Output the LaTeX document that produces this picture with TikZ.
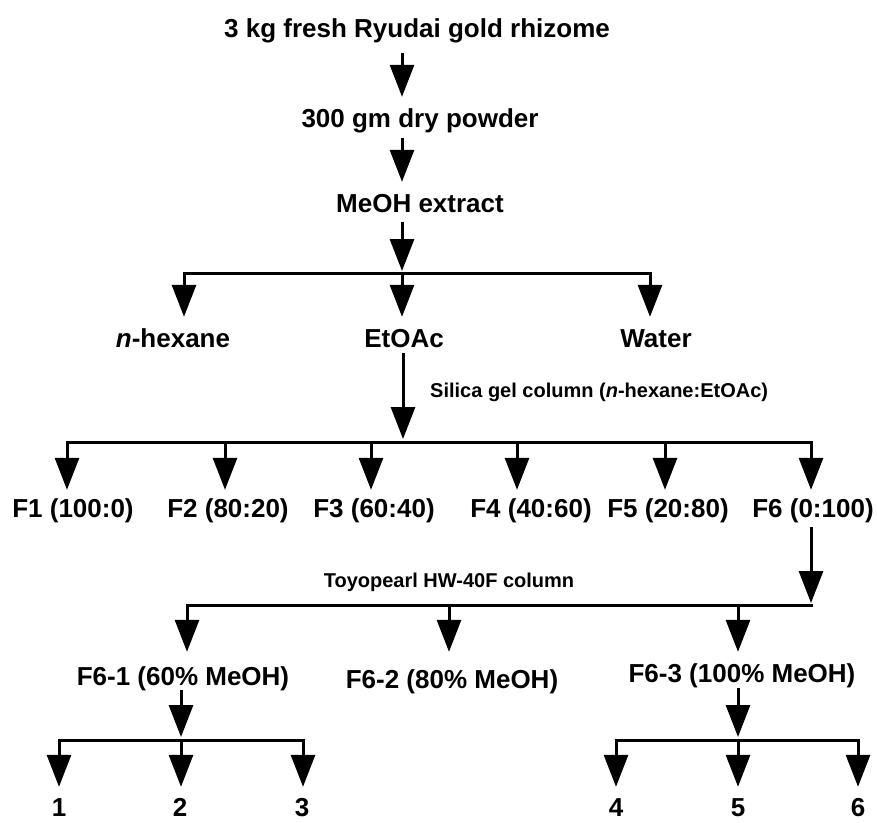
\documentclass[tikz,border=0pt]{standalone}
\usepackage{fontspec}
\setmainfont{Liberation Sans}
\usetikzlibrary{arrows.meta}
\begin{document}
\begin{tikzpicture}[x=1pt,y=-1pt,
  lbl/.style={font=\fontsize{26}{30}\selectfont\bfseries, inner sep=0pt, text height=19pt, text depth=5pt, anchor=base},
  numlbl/.style={lbl, text depth=0pt},
  sml/.style={font=\fontsize{20}{24}\selectfont\bfseries, inner sep=0pt, anchor=base},
  arr/.style={line width=3pt, -{Triangle[length=32pt,width=24pt]}},
  barline/.style={line width=3pt, line cap=rect}]
\useasboundingbox (0,0) rectangle (877,822);
% level 0
\node[lbl] (title) at (417,37) {3 kg fresh Ryudai gold rhizome};
\node[lbl] (powder) at (420,127) {300 gm dry powder};
\node[lbl] (meoh) at (420,212) {MeOH extract};
\coordinate (j1) at (402,273);
\coordinate (b1L) at (184,273);
\coordinate (b1R) at (650,273);
\draw[arr, shorten <=11pt, shorten >=11pt] (title.south -| j1) -- (powder.north -| j1);
\draw[arr, shorten <=6pt, shorten >=11pt] (powder.south -| j1) -- (meoh.north -| j1);
\draw[arr, shorten <=5pt, shorten >=2pt] (meoh.south -| j1) -- (j1);
\draw[barline] (b1L) -- (b1R);
% level 1
\node[lbl] (hex) at (173,347) {\textit{n}-hexane};
\node[lbl] (etoac) at (404,347) {EtOAc};
\node[lbl] (water) at (656,347) {Water};
\draw[arr, shorten >=11pt] (b1L) -- (hex.north -| b1L);
\draw[arr, shorten >=11pt] (j1) -- (etoac.north -| j1);
\draw[arr, shorten >=11pt] (b1R) -- (water.north -| b1R);
% silica column
\coordinate (j2) at (403,442);
\draw[arr, shorten <=1pt, shorten >=3pt] (etoac.south -| j2) -- (j2);
\node[sml, anchor=base west] (silica) at (430,397) {Silica gel column (\textit{n}-hexane:EtOAc)};
\coordinate (b2a) at (67,442);
\coordinate (b2b) at (225,442);
\coordinate (b2c) at (371,442);
\coordinate (b2d) at (517,442);
\coordinate (b2e) at (665,442);
\coordinate (b2f) at (811,442);
\draw[barline] (b2a) -- (b2f);
\node[lbl] (f1) at (73,517) {F1 (100:0)};
\node[lbl] (f2) at (228,517) {F2 (80:20)};
\node[lbl] (f3) at (374,517) {F3 (60:40)};
\node[lbl] (f4) at (531,517) {F4 (40:60)};
\node[lbl] (f5) at (668,517) {F5 (20:80)};
\node[lbl] (f6) at (813,517) {F6 (0:100)};
\draw[arr, shorten >=8pt] (b2a) -- (f1.north -| b2a);
\draw[arr, shorten >=8pt] (b2b) -- (f2.north -| b2b);
\draw[arr, shorten >=8pt] (b2c) -- (f3.north -| b2c);
\draw[arr, shorten >=8pt] (b2d) -- (f4.north -| b2d);
\draw[arr, shorten >=8pt] (b2e) -- (f5.north -| b2e);
\draw[arr, shorten >=8pt] (b2f) -- (f6.north -| b2f);
% Toyopearl column
\coordinate (j3) at (811,605);
\draw[arr, shorten <=5pt, shorten >=2pt] (f6.south -| j3) -- (j3);
\node[sml] (toyo) at (449,587) {Toyopearl HW-40F column};
\coordinate (b3a) at (187,605);
\coordinate (b3b) at (449,605);
\coordinate (b3c) at (738,605);
\draw[barline] (b3a) -- (j3);
\node[lbl] (f61) at (183,685) {F6-1 (60\% MeOH)};
\node[lbl] (f62) at (452,688) {F6-2 (80\% MeOH)};
\node[lbl] (f63) at (742,682) {F6-3 (100\% MeOH)};
\draw[arr, shorten >=14pt] (b3a) -- (f61.north -| b3a);
\draw[arr, shorten >=17pt] (b3b) -- (f62.north -| b3b);
\draw[arr, shorten >=11pt] (b3c) -- (f63.north -| b3c);
% F6-1 sub-fractions
\coordinate (j4) at (181,740);
\coordinate (b4a) at (59,740);
\coordinate (b4c) at (303,740);
\draw[arr, shorten >=3pt] (f61.south -| j4) -- (j4);
\draw[barline] (b4a) -- (b4c);
\node[numlbl] (n1) at (59,816) {1};
\node[numlbl] (n2) at (180,816) {2};
\node[numlbl] (n3) at (302,816) {3};
\draw[arr, shorten >=10pt] (b4a) -- (n1.north -| b4a);
\draw[arr, shorten >=10pt] (j4) -- (n2.north -| j4);
\draw[arr, shorten >=10pt] (b4c) -- (n3.north -| b4c);
% F6-3 sub-fractions
\coordinate (j5) at (738,740);
\coordinate (b5a) at (616,740);
\coordinate (b5c) at (858,740);
\draw[arr, shorten <=1pt, shorten >=3pt] (f63.south -| j5) -- (j5);
\draw[barline] (b5a) -- (b5c);
\node[numlbl] (n4) at (616,816) {4};
\node[numlbl] (n5) at (738,816) {5};
\node[numlbl] (n6) at (858,816) {6};
\draw[arr, shorten >=10pt] (b5a) -- (n4.north -| b5a);
\draw[arr, shorten >=10pt] (j5) -- (n5.north -| j5);
\draw[arr, shorten >=10pt] (b5c) -- (n6.north -| b5c);
\end{tikzpicture}
\end{document}
